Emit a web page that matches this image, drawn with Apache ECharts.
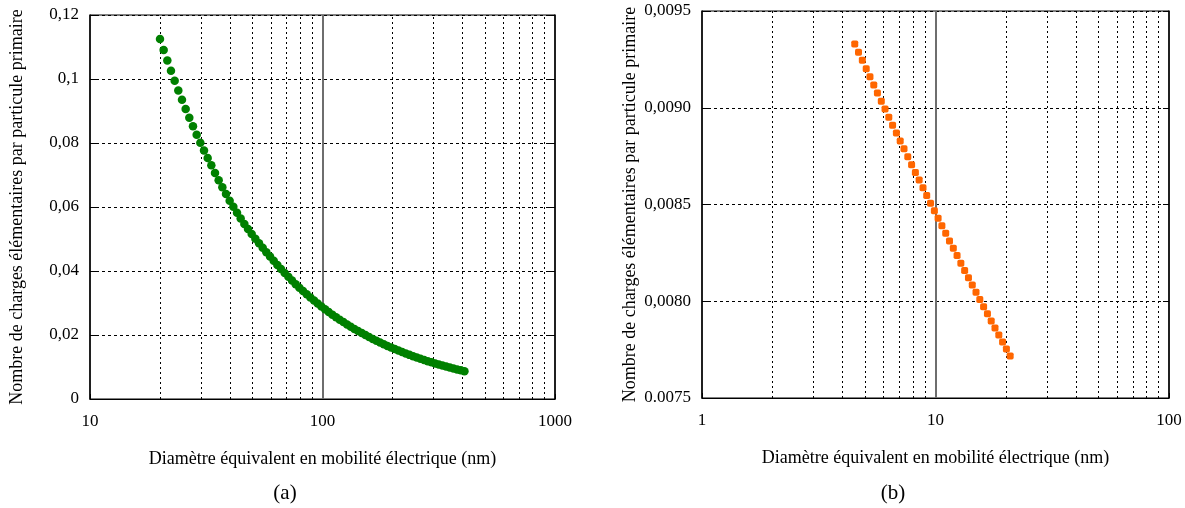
<!DOCTYPE html>
<html>
<head>
<meta charset="utf-8">
<script src="https://cdn.jsdelivr.net/npm/echarts@6/dist/echarts.min.js"></script>
<style>html,body{margin:0;padding:0;background:#fff}#c{width:1185px;height:508px}</style>
</head>
<body>
<div id="c"></div>
<script>
// ---- data ----
const leftD = [20.00,20.74,21.51,22.30,23.13,23.98,24.87,25.79,26.74,27.73,28.76,29.82,30.93,32.07,33.26,34.49,35.76,37.09,38.46,39.88,41.36,42.89,44.47,46.12,47.82,49.59,51.43,53.33,55.30,57.35,59.47,61.67,63.95,66.32,68.77,71.32,73.96,76.69,79.53,82.47,85.52,88.69,91.97,95.37,98.90,102.56,106.35,110.29,114.37,118.60,122.99,127.54,132.26,137.15,142.23,147.49,152.95,158.61,164.48,170.56,176.87,183.42,190.20,197.24,204.54,212.11,219.96,228.10,236.54,245.29,254.36,263.77,273.53,283.65,294.15,305.03,316.32,328.02,340.16,352.74,365.79,379.33,393.36,407.92];
const leftN = [0.11250,0.10908,0.10576,0.10255,0.09943,0.09641,0.09348,0.09063,0.08788,0.08521,0.08261,0.08010,0.07767,0.07531,0.07302,0.07060,0.06834,0.06616,0.06403,0.06197,0.06007,0.05822,0.05643,0.05470,0.05312,0.05159,0.05011,0.04867,0.04724,0.04585,0.04450,0.04320,0.04188,0.04061,0.03937,0.03818,0.03702,0.03589,0.03480,0.03374,0.03272,0.03172,0.03076,0.02982,0.02892,0.02804,0.02718,0.02636,0.02556,0.02478,0.02403,0.02330,0.02259,0.02190,0.02124,0.02059,0.01997,0.01936,0.01877,0.01820,0.01765,0.01711,0.01659,0.01609,0.01560,0.01512,0.01466,0.01422,0.01379,0.01337,0.01296,0.01257,0.01218,0.01181,0.01146,0.01111,0.01077,0.01044,0.01013,0.00982,0.00952,0.00923,0.00895,0.00868];
const rightD = [4.51,4.68,4.86,5.05,5.24,5.44,5.64,5.86,6.08,6.31,6.55,6.80,7.06,7.33,7.61,7.90,8.20,8.51,8.84,9.17,9.52,9.89,10.26,10.65,11.06,11.48,11.92,12.37,12.84,13.33,13.84,14.37,14.91,15.48,16.07,16.69,17.32,17.98,18.67,19.38,20.12,20.88];
const rightN = [0.009330,0.009287,0.009245,0.009202,0.009160,0.009118,0.009076,0.009034,0.008993,0.008951,0.008910,0.008869,0.008828,0.008788,0.008747,0.008706,0.008666,0.008627,0.008587,0.008547,0.008507,0.008468,0.008429,0.008390,0.008351,0.008312,0.008274,0.008236,0.008197,0.008159,0.008122,0.008084,0.008047,0.008009,0.007972,0.007935,0.007898,0.007862,0.007825,0.007789,0.007753,0.007717];
const leftYLabels = ['0','0,02','0,04','0,06','0,08','0,1','0,12'];
const rightYLabels = ['0.0075','0,0080','0,0085','0,0090','0,0095'];
const leftXLabels = {10:'10',100:'100',1000:'1000'};
const rightXLabels = {1:'1',10:'10',100:'100'};
const leftMinorX = [20,30,40,50,60,70,80,90,200,300,400,500,600,700,800,900];
const rightMinorX = [2,3,4,5,6,7,8,9,20,30,40,50,60,70,80,90];
const leftDecadeLine = 100;
const rightDecadeLine = 10;
const yTitle = 'Nombre de charges élémentaires par particule primaire';
const xTitle = 'Diamètre équivalent en mobilité électrique (nm)';

const FONT = 'Liberation Serif';
const chart = echarts.init(document.getElementById('c'), null, {renderer: 'canvas'});

function mkMark(minors, decade) {
  const data = minors.map(v => ({xAxis: v, lineStyle: {type: [2, 3], color: '#000', width: 1}}));
  data.push({xAxis: decade, lineStyle: {type: 'solid', color: '#6e6e6e', width: 2}});
  return {silent: true, symbol: 'none', label: {show: false}, animation: false, data: data};
}

function xAxisCfg(grid, min, max, labels) {
  return {
    type: 'log', logBase: 10, gridIndex: grid, min: min, max: max,
    name: xTitle, nameLocation: 'middle', nameGap: 51,
    nameTextStyle: {fontFamily: FONT, fontSize: 18, color: '#000'},
    axisLine: {show: true, onZero: false, lineStyle: {color: '#000', width: 1}},
    axisTick: {show: true, inside: true, length: 5, lineStyle: {color: '#000'}},
    axisLabel: {fontFamily: FONT, fontSize: 17, color: '#000', margin: 14,
      formatter: v => labels[Math.round(v)] || ''},
    splitLine: {show: false}
  };
}

function yAxisCfg(grid, min, max, interval, labels, gap) {
  return {
    type: 'value', gridIndex: grid, min: min, max: max, interval: interval,
    name: yTitle, nameLocation: 'middle', nameGap: gap,
    nameTextStyle: {fontFamily: FONT, fontSize: 18, color: '#000'},
    axisLine: {show: true, lineStyle: {color: '#000', width: 1.5}},
    axisTick: {show: true, inside: true, length: 6, lineStyle: {color: '#000'}},
    axisLabel: {fontFamily: FONT, fontSize: 17, color: '#000', margin: 11,
      formatter: v => labels[Math.round((v - min) / interval)]},
    splitLine: {show: true, lineStyle: {type: [3, 3], color: '#000', width: 1}}
  };
}

function yRightCfg(grid, min, max, interval) {
  return {
    type: 'value', gridIndex: grid, min: min, max: max, interval: interval, position: 'right',
    axisLine: {show: true, lineStyle: {color: '#000', width: 1.5}},
    axisTick: {show: true, inside: true, length: 6, lineStyle: {color: '#000'}},
    axisLabel: {show: false}, splitLine: {show: false}
  };
}

chart.setOption({
  animation: false,
  backgroundColor: '#fff',
  grid: [
    {left: 90, top: 15, width: 465, height: 384, show: true, borderColor: '#000', borderWidth: 1},
    {left: 702, top: 11, width: 467, height: 387, show: true, borderColor: '#000', borderWidth: 1}
  ],
  xAxis: [xAxisCfg(0, 10, 1000, leftXLabels), xAxisCfg(1, 1, 100, rightXLabels)],
  yAxis: [
    yAxisCfg(0, 0, 0.12, 0.02, leftYLabels, 64),
    yAxisCfg(1, 0.0075, 0.0095, 0.0005, rightYLabels, 63),
    yRightCfg(0, 0, 0.12, 0.02),
    yRightCfg(1, 0.0075, 0.0095, 0.0005)
  ],
  series: [
    {type: 'scatter', xAxisIndex: 0, yAxisIndex: 0, symbol: 'circle', symbolSize: 8.5,
     itemStyle: {color: '#008000', opacity: 1}, data: leftD.map((d, i) => [d, leftN[i]]),
     markLine: mkMark(leftMinorX, leftDecadeLine), z: 5},
    {type: 'scatter', xAxisIndex: 1, yAxisIndex: 1, symbol: 'roundRect', symbolSize: 7,
     itemStyle: {color: '#ff6600', opacity: 1}, data: rightD.map((d, i) => [d, rightN[i]]),
     markLine: mkMark(rightMinorX, rightDecadeLine), z: 5}
  ],
  graphic: [
    {type: 'text', x: 285, y: 493, style: {text: '(a)', font: '21px "Liberation Serif"', fill: '#000', textAlign: 'center', textVerticalAlign: 'middle'}},
    {type: 'text', x: 893, y: 493, style: {text: '(b)', font: '21px "Liberation Serif"', fill: '#000', textAlign: 'center', textVerticalAlign: 'middle'}}
  ]
});
</script>
</body>
</html>
